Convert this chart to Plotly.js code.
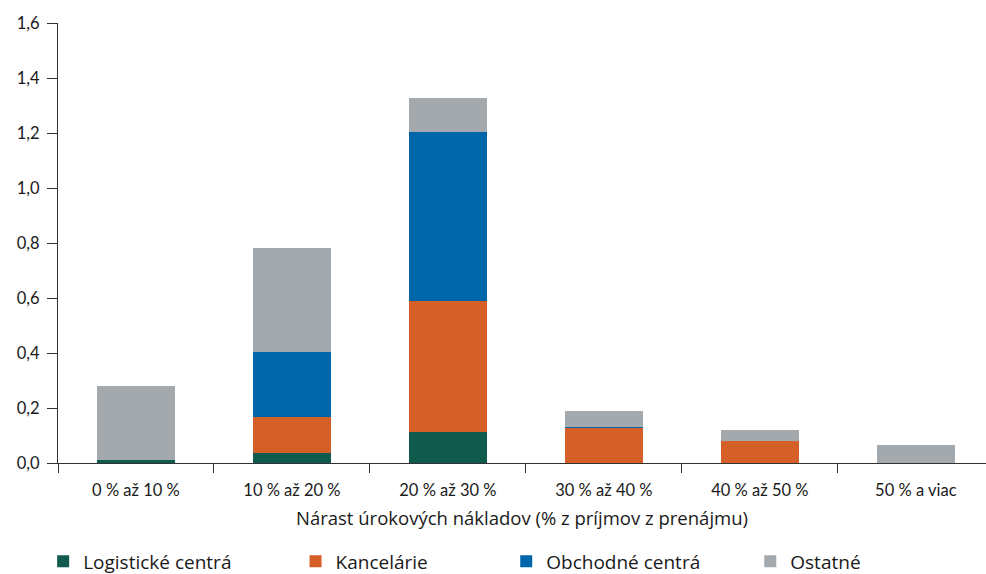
<!DOCTYPE html>
<html>
<head>
<meta charset="utf-8">
<script src="https://cdn.plot.ly/plotly-3.0.1.min.js"></script>
<style>html,body{margin:0;padding:0;background:#fff;}#chart{width:986px;height:574px;}</style>
</head>
<body>
<div id="chart"></div>
<script>
const categories = ["0 % až 10 %", "10 % až 20 %", "20 % až 30 %", "30 % až 40 %", "40 % až 50 %", "50 % a viac"];
const logisticke = [0.011, 0.035, 0.114, 0, 0, 0];
const kancelarie = [0, 0.134, 0.474, 0.127, 0.081, 0];
const obchodne = [0, 0.236, 0.617, 0.005, 0, 0];
const ostatne = [0.268, 0.378, 0.123, 0.057, 0.038, 0.067];
const seriesNames = ["Logistické centrá", "Kancelárie", "Obchodné centrá", "Ostatné"];
const colors = ["#115B4E", "#D46027", "#0066AA", "#A3A9AC"];
const xTitle = "Nárast úrokových nákladov (% z príjmov z prenájmu)";

const FONT = "Lato, 'Open Sans', sans-serif";
const FONT2 = "'Open Sans', Lato, sans-serif";
const values = [logisticke, kancelarie, obchodne, ostatne];
const legendKeys = ["legend", "legend2", "legend3", "legend4"];
const traces = values.map((v, i) => ({
  type: "bar",
  x: categories,
  y: v,
  name: seriesNames[i],
  marker: {color: colors[i]},
  width: 0.5,
  legend: legendKeys[i],
  hoverinfo: "x+y+name"
}));

const legendX = [-0.016, 0.256, 0.483, 0.746];
const layout = {
  width: 986,
  height: 574,
  margin: {l: 58, r: 0, t: 23, b: 111, autoexpand: false},
  paper_bgcolor: "#fff",
  plot_bgcolor: "#fff",
  barmode: "stack",
  separators: ", ",
  font: {family: FONT, size: 16, color: "#1a1a1a"},
  showlegend: true,
  xaxis: {
    type: "category",
    range: [-0.5, 5.45],
    showline: true,
    linecolor: "#333",
    linewidth: 1,
    ticks: "outside",
    tickson: "boundaries",
    ticklen: 9,
    tickcolor: "#333",
    ticklabelstandoff: 12,
    showgrid: false,
    zeroline: false,
    tickfont: {family: FONT, size: 16.5, color: "#1a1a1a"},
    title: {text: xTitle, font: {family: FONT2, size: 18.5, color: "#1a1a1a"}, standoff: 13}
  },
  yaxis: {
    range: [0, 1.6],
    dtick: 0.2,
    tick0: 0,
    tickformat: ".1f",
    showline: true,
    linecolor: "#333",
    linewidth: 1,
    ticks: "outside",
    ticklen: 10,
    tickcolor: "#333",
    ticklabelstandoff: 4,
    showgrid: false,
    zeroline: false,
    tickfont: {family: FONT, size: 16.5, color: "#1a1a1a"}
  }
};
legendKeys.forEach((k, i) => {
  layout[k] = {
    x: legendX[i],
    xanchor: "left",
    yref: "container",
    y: 0.022,
    yanchor: "middle",
    orientation: "h",
    bgcolor: "rgba(0,0,0,0)",
    font: {family: FONT2, size: 19, color: "#1a1a1a"}
  };
});

Plotly.newPlot("chart", traces, layout, {displayModeBar: false, staticPlot: true});
</script>
</body>
</html>
